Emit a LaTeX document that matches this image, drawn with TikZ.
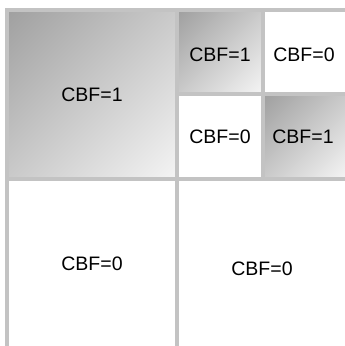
\documentclass[tikz,border=0pt]{standalone}
\usepackage{fontspec}
\setmainfont{Liberation Sans}
\definecolor{gridgray}{HTML}{C3C3C3}
\definecolor{shadedark}{HTML}{999999}
\definecolor{shadelight}{HTML}{FBFBFB}
\pgfdeclareverticalshading{diagfull}{100bp}{color(0bp)=(shadelight); color(8bp)=(shadelight); color(92bp)=(shadedark); color(100bp)=(shadedark)}
\begin{document}
\begin{tikzpicture}[x=1pt,y=-1pt,
  gridline/.style={draw=gridgray,line width=4pt},
  cellshade/.style={shading=diagfull,shading angle=45},
  lbl/.style={inner sep=0pt,font=\fontsize{19.5}{22}\selectfont}]
\useasboundingbox (0,0) rectangle (345,346);
\fill[white] (0,0) rectangle (345,346);
% shaded cells
\shade[cellshade] (9,12) rectangle (175,177);
\shade[cellshade] (179,12) rectangle (261,92);
\shade[cellshade] (265,96) rectangle (345,177);
% grid lines
\draw[gridline] (5,10) -- (345,10);
\draw[gridline] (7,8) -- (7,346);
\draw[gridline] (177,8) -- (177,346);
\draw[gridline] (5,179) -- (345,179);
\draw[gridline] (263,8) -- (263,179);
\draw[gridline] (177,94) -- (345,94);
% labels
\node[lbl] (a) at (92,95) {CBF=1};
\node[lbl] (b) at (220,55) {CBF=1};
\node[lbl] (c) at (304,55) {CBF=0};
\node[lbl] (d) at (220,137) {CBF=0};
\node[lbl] (e) at (303,137) {CBF=1};
\node[lbl] (f) at (92,264) {CBF=0};
\node[lbl] (g) at (262,269) {CBF=0};
\end{tikzpicture}
\end{document}
